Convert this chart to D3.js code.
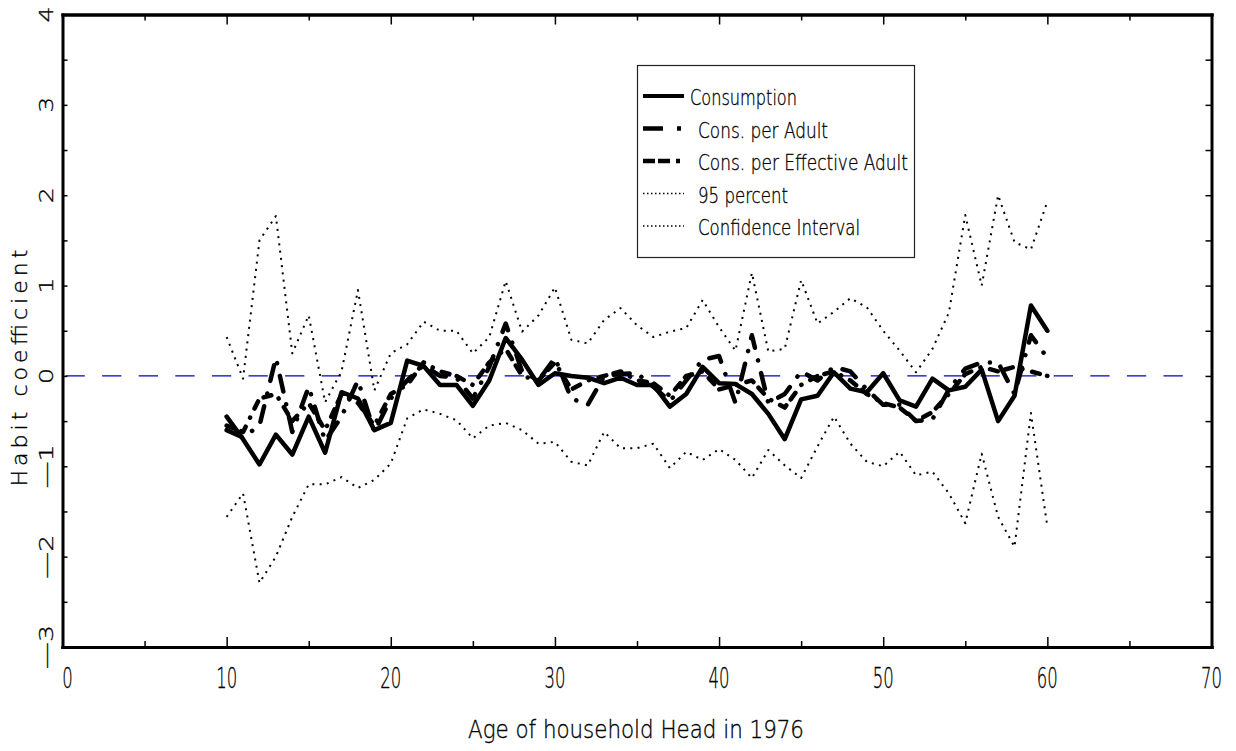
<!DOCTYPE html>
<html>
<head>
<meta charset="utf-8">
<script src="https://cdn.jsdelivr.net/npm/d3@7"></script>
<style>
  body { margin: 0; background: #fff; }
  text { font-family: "DejaVu Sans", "Liberation Sans", sans-serif; font-weight: 200; fill: #000; stroke: #000; stroke-width: 0.35; }
</style>
</head>
<body>
<div id="chart"></div>
<script>
// Age of household head (x) and the estimated habit coefficients
const ages = [10, 11, 12, 13, 14, 15, 16, 17, 18, 19,
              20, 21, 22, 23, 24, 25, 26, 27, 28, 29,
              30, 31, 32, 33, 34, 35, 36, 37, 38, 39,
              40, 41, 42, 43, 44, 45, 46, 47, 48, 49,
              50, 51, 52, 53, 54, 55, 56, 57, 58, 59, 60];

const consumption = [-0.45, -0.70, -0.98, -0.65, -0.87, -0.45, -0.85, -0.18, -0.25, -0.60,
                     -0.52, 0.17, 0.11, -0.10, -0.10, -0.33, -0.05, 0.42, 0.18, -0.10,
                     0.03, 0.00, -0.02, -0.08, -0.02, -0.10, -0.10, -0.34, -0.20, 0.10,
                     -0.08, -0.09, -0.20, -0.42, -0.70, -0.26, -0.22, 0.04, -0.14, -0.18,
                     0.03, -0.27, -0.34, -0.03, -0.16, -0.12, 0.07, -0.50, -0.22, 0.78, 0.50];

const consPerAdult = [-0.60, -0.68, -0.55, 0.20, -0.62, -0.12, -0.72, -0.45, -0.05, -0.62,
                      -0.25, -0.05, 0.12, 0.00, -0.02, -0.25, 0.10, 0.58, 0.05, -0.05,
                      0.20, -0.25, -0.32, 0.00, 0.02, 0.03, -0.12, -0.28, -0.05, 0.18,
                      0.22, -0.30, 0.45, -0.30, -0.20, 0.05, -0.05, 0.10, 0.05, -0.15,
                      -0.32, -0.32, -0.50, -0.48, -0.15, 0.08, 0.15, 0.15, -0.20, 0.45, 0.20];

const consPerEffAdult = [-0.55, -0.62, -0.25, -0.20, -0.50, -0.30, -0.60, -0.20, -0.30, -0.55,
                         -0.20, -0.10, 0.15, 0.05, 0.00, -0.10, 0.15, 0.30, 0.00, -0.05,
                         0.15, -0.15, -0.05, 0.00, 0.05, -0.05, -0.08, -0.22, 0.00, 0.05,
                         -0.15, -0.10, -0.05, -0.25, -0.35, -0.10, 0.00, 0.05, -0.05, -0.20,
                         -0.30, -0.35, -0.50, -0.40, -0.20, 0.02, 0.10, 0.05, 0.10, 0.05, 0.00];

const upperCI = [0.43, -0.03, 1.50, 1.77, 0.25, 0.67, -0.29, 0.05, 0.95, -0.16,
                 0.25, 0.35, 0.60, 0.50, 0.50, 0.25, 0.43, 1.05, 0.49, 0.67,
                 0.98, 0.40, 0.36, 0.62, 0.75, 0.56, 0.43, 0.49, 0.53, 0.84,
                 0.54, 0.28, 1.14, 0.27, 0.30, 1.06, 0.58, 0.71, 0.86, 0.76,
                 0.50, 0.28, 0.04, 0.30, 0.70, 1.78, 1.00, 2.00, 1.48, 1.40, 1.93];

const lowerCI = [-1.56, -1.30, -2.29, -2.00, -1.56, -1.20, -1.20, -1.12, -1.24, -1.15,
                 -0.97, -0.47, -0.37, -0.42, -0.49, -0.69, -0.55, -0.52, -0.60, -0.75,
                 -0.73, -0.95, -0.99, -0.62, -0.80, -0.80, -0.75, -1.02, -0.84, -0.93,
                 -0.81, -0.93, -1.13, -0.82, -0.99, -1.13, -0.78, -0.45, -0.75, -0.95,
                 -1.00, -0.84, -1.10, -1.06, -1.30, -1.63, -0.86, -1.56, -1.89, -0.41, -1.67];

const xMajorTicks = [0, 10, 20, 30, 40, 50, 60, 70];
const xMinorTicks = [5, 15, 25, 35, 45, 55, 65];
const yTicks = [-3, -2.5, -2, -1.5, -1, -0.5, 0, 0.5, 1, 1.5, 2, 2.5, 3, 3.5, 4];
const yLabels = [-3, -2, -1, 0, 1, 2, 3, 4];
const legendLabels = ["Consumption", "Cons. per Adult", "Cons. per Effective Adult", "95 percent", "Confidence Interval"];

// Set up the SVG canvas
const svgWidth = 1236;
const svgHeight = 751;

const svg = d3.select("#chart").append("svg")
    .attr("width", svgWidth)
    .attr("height", svgHeight);

svg.append("rect").attr("width", svgWidth).attr("height", svgHeight).attr("fill", "#fff");

const x = d3.scaleLinear().domain([0, 70]).range([62.5, 1211.5]);
const y = d3.scaleLinear().domain([-3, 4]).range([647, 14.5]);

// zero reference line
svg.append("line")
    .attr("x1", x(0) + 3)
    .attr("x2", x(70) - 14)
    .attr("y1", y(0))
    .attr("y2", y(0))
    .attr("stroke", "#0000c8")
    .attr("stroke-width", 1.2)
    .attr("stroke-dasharray", "19.3 17.3");

const styles = {
    solid: { width: 4.5, dash: null, cap: "round" },
    adult: { width: 4.5, dash: "16 13 0.1 13", cap: "round" },
    eff: { width: 4.5, dash: "8 7.5 8 10 0.1 10", cap: "round" },
    dot: { width: 2, dash: "2 5.3", cap: "butt" }
};

const series = [
    { values: upperCI, style: styles.dot },
    { values: lowerCI, style: styles.dot },
    { values: consPerEffAdult, style: styles.eff },
    { values: consPerAdult, style: styles.adult },
    { values: consumption, style: styles.solid }
];

const line = d3.line()
    .x((d, i) => x(ages[i]))
    .y(d => y(d));

svg.selectAll(".series")
    .data(series)
    .enter().append("path")
    .attr("class", "series")
    .attr("d", d => line(d.values))
    .attr("fill", "none")
    .attr("stroke", "#000")
    .attr("stroke-width", d => d.style.width)
    .attr("stroke-dasharray", d => d.style.dash)
    .attr("stroke-linecap", d => d.style.cap)
    .attr("stroke-linejoin", "round");

// Axes: inward ticks on all four sides
function styleAxis(g) {
    g.select(".domain").attr("stroke-width", 3).attr("stroke-linecap", "square");
    g.selectAll(".tick line").attr("stroke-width", 1.5);
    g.selectAll(".tick text").remove();
}

svg.append("g")
    .attr("transform", "translate(0," + y(-3) + ")")
    .call(d3.axisBottom(x).tickValues(xMajorTicks).tickSize(-10).tickSizeOuter(0))
    .call(styleAxis);
svg.append("g")
    .attr("transform", "translate(0," + y(-3) + ")")
    .call(d3.axisBottom(x).tickValues(xMinorTicks).tickSize(-6).tickSizeOuter(0))
    .call(styleAxis);
svg.append("g")
    .attr("transform", "translate(0," + y(4) + ")")
    .call(d3.axisTop(x).tickValues(xMajorTicks).tickSize(-10).tickSizeOuter(0))
    .call(styleAxis);
svg.append("g")
    .attr("transform", "translate(0," + y(4) + ")")
    .call(d3.axisTop(x).tickValues(xMinorTicks).tickSize(-6).tickSizeOuter(0))
    .call(styleAxis);
svg.append("g")
    .attr("transform", "translate(" + x(0) + ",0)")
    .call(d3.axisLeft(y).tickValues(yTicks).tickSize(-5).tickSizeOuter(0))
    .call(styleAxis);
svg.append("g")
    .attr("transform", "translate(" + x(70) + ",0)")
    .call(d3.axisRight(y).tickValues(yTicks).tickSize(-6).tickSizeOuter(0))
    .call(styleAxis);

// x tick labels
svg.selectAll(".xlab")
    .data(xMajorTicks)
    .enter().append("text")
    .attr("class", "xlab")
    .attr("x", d => x(d) + (d === 0 ? 5 : 0))
    .attr("y", 688)
    .attr("text-anchor", "middle")
    .attr("font-size", 28)
    .attr("textLength", d => String(d).length * 10.5)
    .attr("lengthAdjust", "spacingAndGlyphs")
    .text(d => d);

// y tick labels, rotated, minus drawn as a long dash
svg.selectAll(".ylab")
    .data(yLabels)
    .enter().append("text")
    .attr("class", "ylab")
    .attr("transform", d => "translate(53," + y(d) + ") rotate(-90)")
    .attr("text-anchor", "middle")
    .attr("font-size", 20)
    .attr("textLength", d => d < 0 ? 44 : 16)
    .attr("lengthAdjust", "spacingAndGlyphs")
    .text(d => d < 0 ? "\u2014" + Math.abs(d) : d);

// axis titles
svg.append("text")
    .attr("x", 636)
    .attr("y", 738)
    .attr("text-anchor", "middle")
    .attr("font-size", 25)
    .attr("textLength", 336)
    .attr("lengthAdjust", "spacingAndGlyphs")
    .text("Age of household Head in 1976");

svg.append("text")
    .attr("transform", "translate(27,368) rotate(-90)")
    .attr("text-anchor", "middle")
    .attr("font-size", 22)
    .attr("textLength", 237)
    .attr("lengthAdjust", "spacing")
    .text("Habit coefficient");

// Legend
const legend = svg.append("g");
legend.append("rect")
    .attr("x", 637.5).attr("y", 65.5)
    .attr("width", 277).attr("height", 192)
    .attr("fill", "#fff")
    .attr("stroke", "#222")
    .attr("stroke-width", 1.2);

const legendStyles = [
    { dash: null, width: 4, textX: 690, len: 107 },
    { dash: "20 14 4 10", width: 4.5, textX: 698, len: 130 },
    { dash: "12 3 12 6 4 10", width: 4.5, textX: 698, len: 210 },
    { dash: "1.5 2.5", width: 1.5, textX: 698, len: 90 },
    { dash: "1.5 2.5", width: 1.5, textX: 698, len: 162 }
];

const rows = legend.selectAll(".row")
    .data(legendLabels)
    .enter().append("g")
    .attr("transform", (d, i) => "translate(0," + (105 + i * 32.5) + ")");

rows.append("line")
    .attr("x1", 643).attr("x2", 684)
    .attr("y1", -9).attr("y2", -9)
    .attr("stroke", "#000")
    .attr("stroke-width", (d, i) => legendStyles[i].width)
    .attr("stroke-dasharray", (d, i) => legendStyles[i].dash);

rows.append("text")
    .attr("x", (d, i) => legendStyles[i].textX)
    .attr("y", 0)
    .attr("font-size", 21)
    .attr("textLength", (d, i) => legendStyles[i].len)
    .attr("lengthAdjust", "spacingAndGlyphs")
    .text(d => d);
</script>
</body>
</html>
